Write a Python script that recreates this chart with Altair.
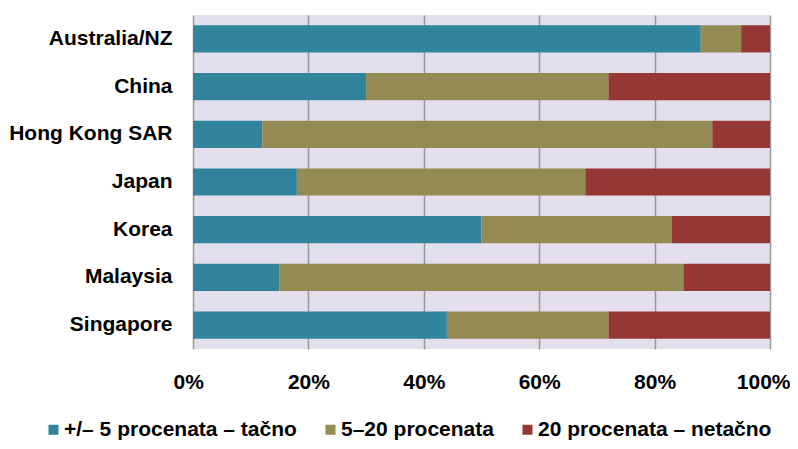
import altair as alt
import pandas as pd

regions = ["Australia/NZ", "China", "Hong Kong SAR", "Japan", "Korea", "Malaysia", "Singapore"]
series = ["+/– 5 procenata – tačno", "5–20 procenata", "20 procenata – netačno"]
accurate = [88, 30, 12, 18, 50, 15, 44]
mid = [7, 42, 78, 50, 33, 70, 28]
inaccurate = [5, 28, 10, 32, 17, 15, 28]
colors = ["#31849B", "#948A54", "#953735"]

rows = []
for i, r in enumerate(regions):
    for k, vals in enumerate([accurate, mid, inaccurate]):
        rows.append({"region": r, "series": series[k], "order": k, "value": vals[i]})
df = pd.DataFrame(rows)

FONT = "Liberation Sans"

chart = alt.Chart(df).mark_bar().encode(
    y=alt.Y("region:N", sort=regions, title=None,
            scale=alt.Scale(paddingInner=0.43, paddingOuter=0.215),
            axis=alt.Axis(ticks=False, domain=False, labelFont=FONT, labelFontSize=21,
                          labelFontWeight="bold", labelColor="#000000", labelPadding=21,
                          labelLimit=300)),
    x=alt.X("value:Q", stack="normalize", title=None,
            scale=alt.Scale(domain=[0, 1], nice=False),
            axis=alt.Axis(format="%", values=[0, 0.2, 0.4, 0.6, 0.8, 1.0], ticks=False,
                          domain=False, grid=True, gridColor="#999999", gridWidth=1.5,
                          labelFont=FONT, labelFontSize=21, labelFontWeight="bold",
                          labelColor="#000000", labelPadding=22, labelFlush=True,
                          labelFlushOffset=20)),
    color=alt.Color("series:N", scale=alt.Scale(domain=series, range=colors),
                    legend=alt.Legend(title=None, orient="none", direction="horizontal",
                                      legendX=-150, legendY=404, symbolType="square",
                                      symbolSize=100, symbolStrokeWidth=0, labelOffset=0,
                                      columnPadding=23, labelFont=FONT, labelFontSize=21,
                                      labelFontWeight="bold", labelColor="#000000",
                                      labelLimit=400, padding=0)),
    order=alt.Order("order:Q"),
).properties(
    width=577, height=334,
    autosize=alt.AutoSizeParams(type="none"),
    padding={"left": 185, "top": 7, "right": 20, "bottom": 92},
).configure_view(fill="#E4DFEC", stroke=None)

chart.save("out.html", embed_options={"renderer": "svg", "actions": False})
